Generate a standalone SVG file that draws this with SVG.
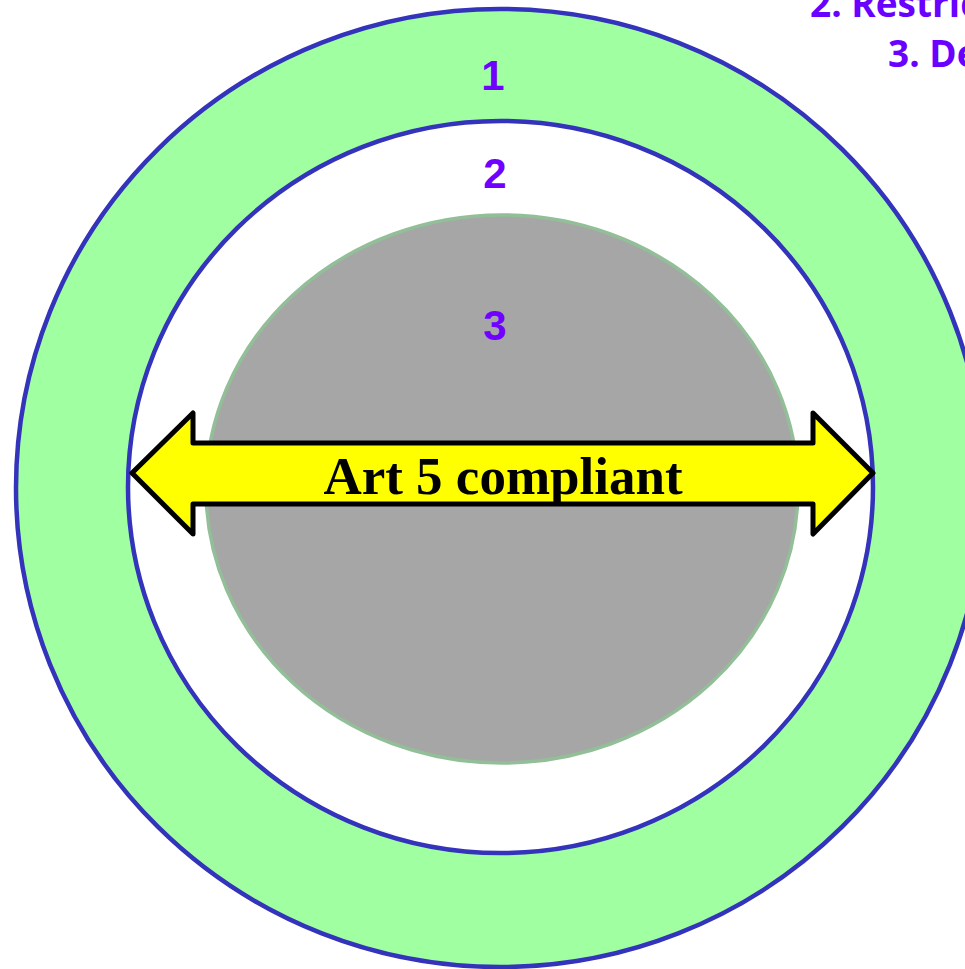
<svg xmlns="http://www.w3.org/2000/svg" width="965" height="969" viewBox="0 0 965 969">
<style>
.ring{stroke:#3333bb;stroke-width:4.5}
.num{font-family:"Liberation Sans",Arial,sans-serif;font-weight:bold;font-size:42px;fill:#7000ff;text-anchor:middle}
.hdr{font-family:"Open Sans","Noto Sans",sans-serif;font-weight:bold;font-size:37px;fill:#6a00ff}
</style>
<rect width="965" height="969" fill="#ffffff"/>
<g id="outer-ring">
<ellipse class="ring" cx="500" cy="488" rx="484" ry="479" fill="#a0ffa0"/>
</g>
<g id="inner-ring">
<ellipse class="ring" cx="500.5" cy="487" rx="372.5" ry="366" fill="#ffffff"/>
</g>
<g id="core">
<ellipse cx="502" cy="489" rx="296" ry="274" fill="#a6a6a6" stroke="#92bf98" stroke-width="3.5"/>
</g>
<g id="labels">
<text class="num" x="493" y="90">1</text>
<text class="num" x="495" y="188">2</text>
<text class="num" x="495" y="340">3</text>
</g>
<g id="header">
<text class="hdr" x="810" y="17">2. Restric</text>
<text class="hdr" x="888" y="67">3. De</text>
</g>
<g id="arrow">
<polygon points="132,473 193,413 193,443 813,443 813,413 873,473 813,534 813,504 193,504 193,534" fill="#ffff00" stroke="#000000" stroke-width="5" stroke-linejoin="round"/>
<text x="503" y="494" font-family="'Liberation Serif','Times New Roman',serif" font-weight="bold" font-size="53" text-anchor="middle" fill="#000000">Art 5 compliant</text>
</g>
</svg>
